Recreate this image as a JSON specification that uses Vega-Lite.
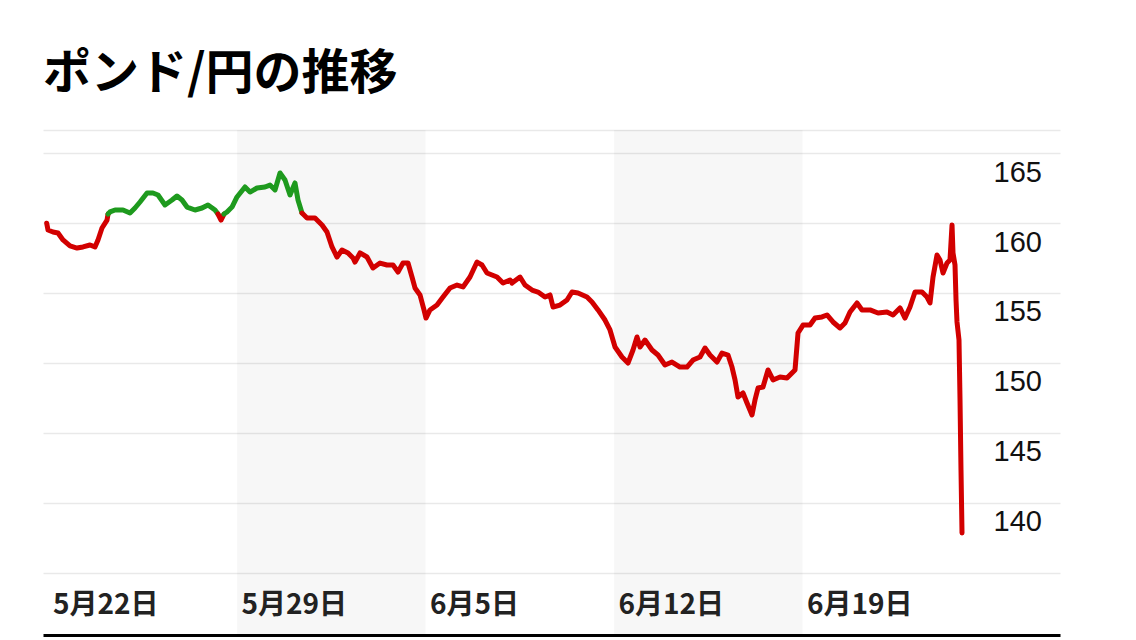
{
  "$schema": "https://vega.github.io/schema/vega-lite/v6.json",
  "width": 1017,
  "height": 505,
  "autosize": {"type": "none"},
  "padding": {"left": 43, "top": 130, "right": 76, "bottom": 5},
  "background": "white",
  "title": {"text": "ポンド/円の推移", "anchor": "start", "frame": "group", "font": "Noto Sans CJK JP", "fontSize": 48, "fontWeight": "bold", "color": "#000", "offset": 31},
  "config": {"view": {"stroke": null}},
  "datasets": {
    "bands": [{"s": 5, "e": 10}, {"s": 15, "e": 20}],
    "fx": [
      {"t": -0.048, "v": 159.98, "seg": 1, "d": "dn"}, {"t": -0.013, "v": 159.5, "seg": 1, "d": "dn"}, {"t": 0.119, "v": 159.36, "seg": 1, "d": "dn"}, {"t": 0.252, "v": 159.29, "seg": 1, "d": "dn"}, {"t": 0.385, "v": 158.79, "seg": 1, "d": "dn"}, {"t": 0.57, "v": 158.36, "seg": 1, "d": "dn"}, {"t": 0.756, "v": 158.21, "seg": 1, "d": "dn"}, {"t": 0.915, "v": 158.29, "seg": 1, "d": "dn"}, {"t": 1.101, "v": 158.43, "seg": 1, "d": "dn"}, {"t": 1.233, "v": 158.29, "seg": 1, "d": "dn"}, {"t": 1.313, "v": 158.79, "seg": 1, "d": "dn"}, {"t": 1.419, "v": 159.64, "seg": 1, "d": "dn"}, {"t": 1.552, "v": 160.21, "seg": 1, "d": "dn"}, {"t": 1.578, "v": 160.64, "seg": 1, "d": "dn"},
      {"t": 1.578, "v": 160.64, "seg": 2, "d": "up"}, {"t": 1.631, "v": 160.79, "seg": 2, "d": "up"}, {"t": 1.764, "v": 160.93, "seg": 2, "d": "up"}, {"t": 1.976, "v": 160.93, "seg": 2, "d": "up"}, {"t": 2.162, "v": 160.71, "seg": 2, "d": "up"}, {"t": 2.294, "v": 161.07, "seg": 2, "d": "up"}, {"t": 2.427, "v": 161.5, "seg": 2, "d": "up"}, {"t": 2.613, "v": 162.14, "seg": 2, "d": "up"}, {"t": 2.772, "v": 162.14, "seg": 2, "d": "up"}, {"t": 2.905, "v": 162.0, "seg": 2, "d": "up"}, {"t": 3.09, "v": 161.29, "seg": 2, "d": "up"}, {"t": 3.276, "v": 161.64, "seg": 2, "d": "up"}, {"t": 3.408, "v": 161.93, "seg": 2, "d": "up"}, {"t": 3.541, "v": 161.64, "seg": 2, "d": "up"}, {"t": 3.674, "v": 161.14, "seg": 2, "d": "up"}, {"t": 3.886, "v": 160.93, "seg": 2, "d": "up"}, {"t": 4.072, "v": 161.07, "seg": 2, "d": "up"}, {"t": 4.231, "v": 161.29, "seg": 2, "d": "up"}, {"t": 4.416, "v": 160.93, "seg": 2, "d": "up"}, {"t": 4.496, "v": 160.64, "seg": 2, "d": "up"},
      {"t": 4.496, "v": 160.64, "seg": 3, "d": "dn"}, {"t": 4.576, "v": 160.21, "seg": 3, "d": "dn"}, {"t": 4.655, "v": 160.64, "seg": 3, "d": "dn"},
      {"t": 4.655, "v": 160.64, "seg": 4, "d": "up"}, {"t": 4.735, "v": 160.79, "seg": 4, "d": "up"}, {"t": 4.867, "v": 161.14, "seg": 4, "d": "up"}, {"t": 5.0, "v": 161.86, "seg": 4, "d": "up"}, {"t": 5.212, "v": 162.57, "seg": 4, "d": "up"}, {"t": 5.345, "v": 162.21, "seg": 4, "d": "up"}, {"t": 5.531, "v": 162.5, "seg": 4, "d": "up"}, {"t": 5.743, "v": 162.57, "seg": 4, "d": "up"}, {"t": 5.875, "v": 162.71, "seg": 4, "d": "up"}, {"t": 6.008, "v": 162.36, "seg": 4, "d": "up"}, {"t": 6.141, "v": 163.57, "seg": 4, "d": "up"}, {"t": 6.273, "v": 163.07, "seg": 4, "d": "up"}, {"t": 6.406, "v": 162.0, "seg": 4, "d": "up"}, {"t": 6.538, "v": 162.86, "seg": 4, "d": "up"}, {"t": 6.618, "v": 161.64, "seg": 4, "d": "up"}, {"t": 6.724, "v": 160.71, "seg": 4, "d": "up"},
      {"t": 6.724, "v": 160.71, "seg": 5, "d": "dn"}, {"t": 6.857, "v": 160.36, "seg": 5, "d": "dn"}, {"t": 7.069, "v": 160.36, "seg": 5, "d": "dn"}, {"t": 7.255, "v": 159.86, "seg": 5, "d": "dn"}, {"t": 7.387, "v": 159.36, "seg": 5, "d": "dn"}, {"t": 7.52, "v": 158.29, "seg": 5, "d": "dn"}, {"t": 7.653, "v": 157.57, "seg": 5, "d": "dn"}, {"t": 7.785, "v": 158.07, "seg": 5, "d": "dn"}, {"t": 7.944, "v": 157.86, "seg": 5, "d": "dn"}, {"t": 8.077, "v": 157.5, "seg": 5, "d": "dn"}, {"t": 8.13, "v": 157.21, "seg": 5, "d": "dn"}, {"t": 8.263, "v": 157.86, "seg": 5, "d": "dn"}, {"t": 8.448, "v": 157.57, "seg": 5, "d": "dn"}, {"t": 8.607, "v": 156.79, "seg": 5, "d": "dn"}, {"t": 8.793, "v": 157.14, "seg": 5, "d": "dn"}, {"t": 8.979, "v": 157.0, "seg": 5, "d": "dn"}, {"t": 9.138, "v": 157.0, "seg": 5, "d": "dn"}, {"t": 9.271, "v": 156.5, "seg": 5, "d": "dn"}, {"t": 9.403, "v": 157.14, "seg": 5, "d": "dn"}, {"t": 9.536, "v": 157.14, "seg": 5, "d": "dn"}, {"t": 9.642, "v": 156.14, "seg": 5, "d": "dn"}, {"t": 9.721, "v": 155.36, "seg": 5, "d": "dn"}, {"t": 9.854, "v": 154.86, "seg": 5, "d": "dn"}, {"t": 9.96, "v": 153.79, "seg": 5, "d": "dn"}, {"t": 10.013, "v": 153.21, "seg": 5, "d": "dn"}, {"t": 10.119, "v": 153.79, "seg": 5, "d": "dn"}, {"t": 10.305, "v": 154.14, "seg": 5, "d": "dn"}, {"t": 10.464, "v": 154.71, "seg": 5, "d": "dn"}, {"t": 10.65, "v": 155.36, "seg": 5, "d": "dn"}, {"t": 10.836, "v": 155.57, "seg": 5, "d": "dn"}, {"t": 10.995, "v": 155.43, "seg": 5, "d": "dn"}, {"t": 11.18, "v": 156.14, "seg": 5, "d": "dn"}, {"t": 11.366, "v": 157.21, "seg": 5, "d": "dn"}, {"t": 11.499, "v": 157.0, "seg": 5, "d": "dn"}, {"t": 11.631, "v": 156.43, "seg": 5, "d": "dn"}, {"t": 11.897, "v": 156.14, "seg": 5, "d": "dn"}, {"t": 12.056, "v": 155.71, "seg": 5, "d": "dn"}, {"t": 12.241, "v": 155.93, "seg": 5, "d": "dn"}, {"t": 12.294, "v": 155.71, "seg": 5, "d": "dn"}, {"t": 12.507, "v": 156.14, "seg": 5, "d": "dn"}, {"t": 12.639, "v": 155.57, "seg": 5, "d": "dn"}, {"t": 12.825, "v": 155.21, "seg": 5, "d": "dn"}, {"t": 12.984, "v": 155.07, "seg": 5, "d": "dn"}, {"t": 13.17, "v": 154.71, "seg": 5, "d": "dn"}, {"t": 13.302, "v": 154.86, "seg": 5, "d": "dn"}, {"t": 13.382, "v": 154.0, "seg": 5, "d": "dn"}, {"t": 13.568, "v": 154.14, "seg": 5, "d": "dn"}, {"t": 13.753, "v": 154.5, "seg": 5, "d": "dn"}, {"t": 13.886, "v": 155.07, "seg": 5, "d": "dn"}, {"t": 14.045, "v": 155.0, "seg": 5, "d": "dn"}, {"t": 14.284, "v": 154.71, "seg": 5, "d": "dn"}, {"t": 14.416, "v": 154.36, "seg": 5, "d": "dn"}, {"t": 14.576, "v": 153.79, "seg": 5, "d": "dn"}, {"t": 14.761, "v": 153.07, "seg": 5, "d": "dn"}, {"t": 14.894, "v": 152.36, "seg": 5, "d": "dn"}, {"t": 15.027, "v": 151.14, "seg": 5, "d": "dn"}, {"t": 15.212, "v": 150.43, "seg": 5, "d": "dn"}, {"t": 15.371, "v": 150.0, "seg": 5, "d": "dn"}, {"t": 15.504, "v": 150.93, "seg": 5, "d": "dn"}, {"t": 15.61, "v": 151.86, "seg": 5, "d": "dn"}, {"t": 15.69, "v": 151.14, "seg": 5, "d": "dn"}, {"t": 15.822, "v": 151.64, "seg": 5, "d": "dn"}, {"t": 16.008, "v": 150.93, "seg": 5, "d": "dn"}, {"t": 16.167, "v": 150.57, "seg": 5, "d": "dn"}, {"t": 16.353, "v": 149.86, "seg": 5, "d": "dn"}, {"t": 16.538, "v": 150.07, "seg": 5, "d": "dn"}, {"t": 16.751, "v": 149.71, "seg": 5, "d": "dn"}, {"t": 16.936, "v": 149.71, "seg": 5, "d": "dn"}, {"t": 17.095, "v": 150.21, "seg": 5, "d": "dn"}, {"t": 17.281, "v": 150.43, "seg": 5, "d": "dn"}, {"t": 17.414, "v": 151.07, "seg": 5, "d": "dn"}, {"t": 17.546, "v": 150.57, "seg": 5, "d": "dn"}, {"t": 17.732, "v": 150.07, "seg": 5, "d": "dn"}, {"t": 17.865, "v": 150.71, "seg": 5, "d": "dn"}, {"t": 18.024, "v": 150.57, "seg": 5, "d": "dn"}, {"t": 18.13, "v": 149.71, "seg": 5, "d": "dn"}, {"t": 18.21, "v": 148.79, "seg": 5, "d": "dn"}, {"t": 18.289, "v": 147.57, "seg": 5, "d": "dn"}, {"t": 18.422, "v": 147.86, "seg": 5, "d": "dn"}, {"t": 18.528, "v": 147.14, "seg": 5, "d": "dn"}, {"t": 18.66, "v": 146.29, "seg": 5, "d": "dn"}, {"t": 18.74, "v": 147.36, "seg": 5, "d": "dn"}, {"t": 18.82, "v": 148.21, "seg": 5, "d": "dn"}, {"t": 18.952, "v": 148.29, "seg": 5, "d": "dn"}, {"t": 19.085, "v": 149.5, "seg": 5, "d": "dn"}, {"t": 19.218, "v": 148.79, "seg": 5, "d": "dn"}, {"t": 19.403, "v": 149.0, "seg": 5, "d": "dn"}, {"t": 19.589, "v": 148.93, "seg": 5, "d": "dn"}, {"t": 19.721, "v": 149.29, "seg": 5, "d": "dn"}, {"t": 19.801, "v": 149.5, "seg": 5, "d": "dn"}, {"t": 19.881, "v": 152.14, "seg": 5, "d": "dn"}, {"t": 20.013, "v": 152.71, "seg": 5, "d": "dn"}, {"t": 20.199, "v": 152.71, "seg": 5, "d": "dn"}, {"t": 20.332, "v": 153.21, "seg": 5, "d": "dn"}, {"t": 20.517, "v": 153.29, "seg": 5, "d": "dn"}, {"t": 20.65, "v": 153.43, "seg": 5, "d": "dn"}, {"t": 20.809, "v": 152.93, "seg": 5, "d": "dn"}, {"t": 20.995, "v": 152.5, "seg": 5, "d": "dn"}, {"t": 21.127, "v": 152.86, "seg": 5, "d": "dn"}, {"t": 21.26, "v": 153.64, "seg": 5, "d": "dn"}, {"t": 21.446, "v": 154.29, "seg": 5, "d": "dn"}, {"t": 21.578, "v": 153.79, "seg": 5, "d": "dn"}, {"t": 21.79, "v": 153.79, "seg": 5, "d": "dn"}, {"t": 22.003, "v": 153.57, "seg": 5, "d": "dn"}, {"t": 22.241, "v": 153.64, "seg": 5, "d": "dn"}, {"t": 22.401, "v": 153.43, "seg": 5, "d": "dn"}, {"t": 22.586, "v": 153.93, "seg": 5, "d": "dn"}, {"t": 22.719, "v": 153.21, "seg": 5, "d": "dn"}, {"t": 22.851, "v": 154.0, "seg": 5, "d": "dn"}, {"t": 22.984, "v": 155.07, "seg": 5, "d": "dn"}, {"t": 23.17, "v": 155.07, "seg": 5, "d": "dn"}, {"t": 23.302, "v": 154.71, "seg": 5, "d": "dn"}, {"t": 23.382, "v": 154.29, "seg": 5, "d": "dn"}, {"t": 23.462, "v": 156.14, "seg": 5, "d": "dn"}, {"t": 23.568, "v": 157.71, "seg": 5, "d": "dn"}, {"t": 23.647, "v": 157.36, "seg": 5, "d": "dn"}, {"t": 23.727, "v": 156.43, "seg": 5, "d": "dn"}, {"t": 23.833, "v": 157.14, "seg": 5, "d": "dn"}, {"t": 23.912, "v": 157.36, "seg": 5, "d": "dn"}, {"t": 23.966, "v": 159.86, "seg": 5, "d": "dn"}, {"t": 23.992, "v": 157.86, "seg": 5, "d": "dn"}, {"t": 24.045, "v": 157.0, "seg": 5, "d": "dn"}, {"t": 24.072, "v": 154.5, "seg": 5, "d": "dn"}, {"t": 24.098, "v": 152.93, "seg": 5, "d": "dn"}, {"t": 24.151, "v": 151.64, "seg": 5, "d": "dn"}, {"t": 24.178, "v": 147.36, "seg": 5, "d": "dn"}, {"t": 24.204, "v": 142.36, "seg": 5, "d": "dn"}, {"t": 24.231, "v": 137.86, "seg": 5, "d": "dn"}
    ]
  },
  "layer": [
    {
      "data": {"name": "bands"},
      "mark": {"type": "rect", "color": "#000000", "opacity": 0.03},
      "encoding": {
        "x": {
          "field": "s", "type": "quantitative",
          "scale": {"domain": [-0.146, 26.83], "nice": false, "zero": false},
          "axis": {
            "values": [0, 5, 10, 15, 20],
            "labelExpr": "['5月22日','5月29日','6月5日','6月12日','6月19日'][round(datum.value/5)]",
            "title": null, "grid": false, "ticks": false, "tickSize": 0,
            "domainColor": "#000000", "domainWidth": 3,
            "labelAlign": "left", "labelOffset": 4, "labelPadding": -30, "labelBaseline": "middle",
            "labelFont": "Noto Sans CJK JP", "labelFontSize": 28, "labelFontWeight": "bold", "labelColor": "#222222",
            "labelFlush": false, "labelOverlap": false, "zindex": 1
          }
        },
        "x2": {"field": "e"}
      }
    },
    {
      "data": {"name": "fx"},
      "mark": {"type": "line", "strokeWidth": 5, "strokeJoin": "round", "strokeCap": "round"},
      "encoding": {
        "x": {"field": "t", "type": "quantitative", "scale": {"domain": [-0.146, 26.83], "nice": false, "zero": false}},
        "y": {
          "field": "v", "type": "quantitative",
          "scale": {"domain": [130.571, 166.643], "nice": false, "zero": false},
          "axis": {
            "orient": "right", "values": [135, 140, 145, 150, 155, 160, 165, 166.643],
            "labelExpr": "datum.value < 137 || datum.value > 166 ? '' : datum.label",
            "format": "d", "title": null, "domain": false, "ticks": false, "tickSize": 0,
            "grid": true, "gridColor": "#e9e9e9", "gridWidth": 1.5,
            "labelPadding": -67, "labelAlign": "left", "labelOffset": 19, "labelBaseline": "middle",
            "labelFont": "Liberation Sans", "labelFontSize": 29, "labelColor": "#111111",
            "labelFlush": false, "labelOverlap": false
          }
        },
        "color": {"field": "d", "type": "nominal", "scale": {"domain": ["dn", "up"], "range": ["#d20000", "#1e9a1e"]}, "legend": null},
        "detail": {"field": "seg", "type": "nominal"}
      }
    }
  ]
}
